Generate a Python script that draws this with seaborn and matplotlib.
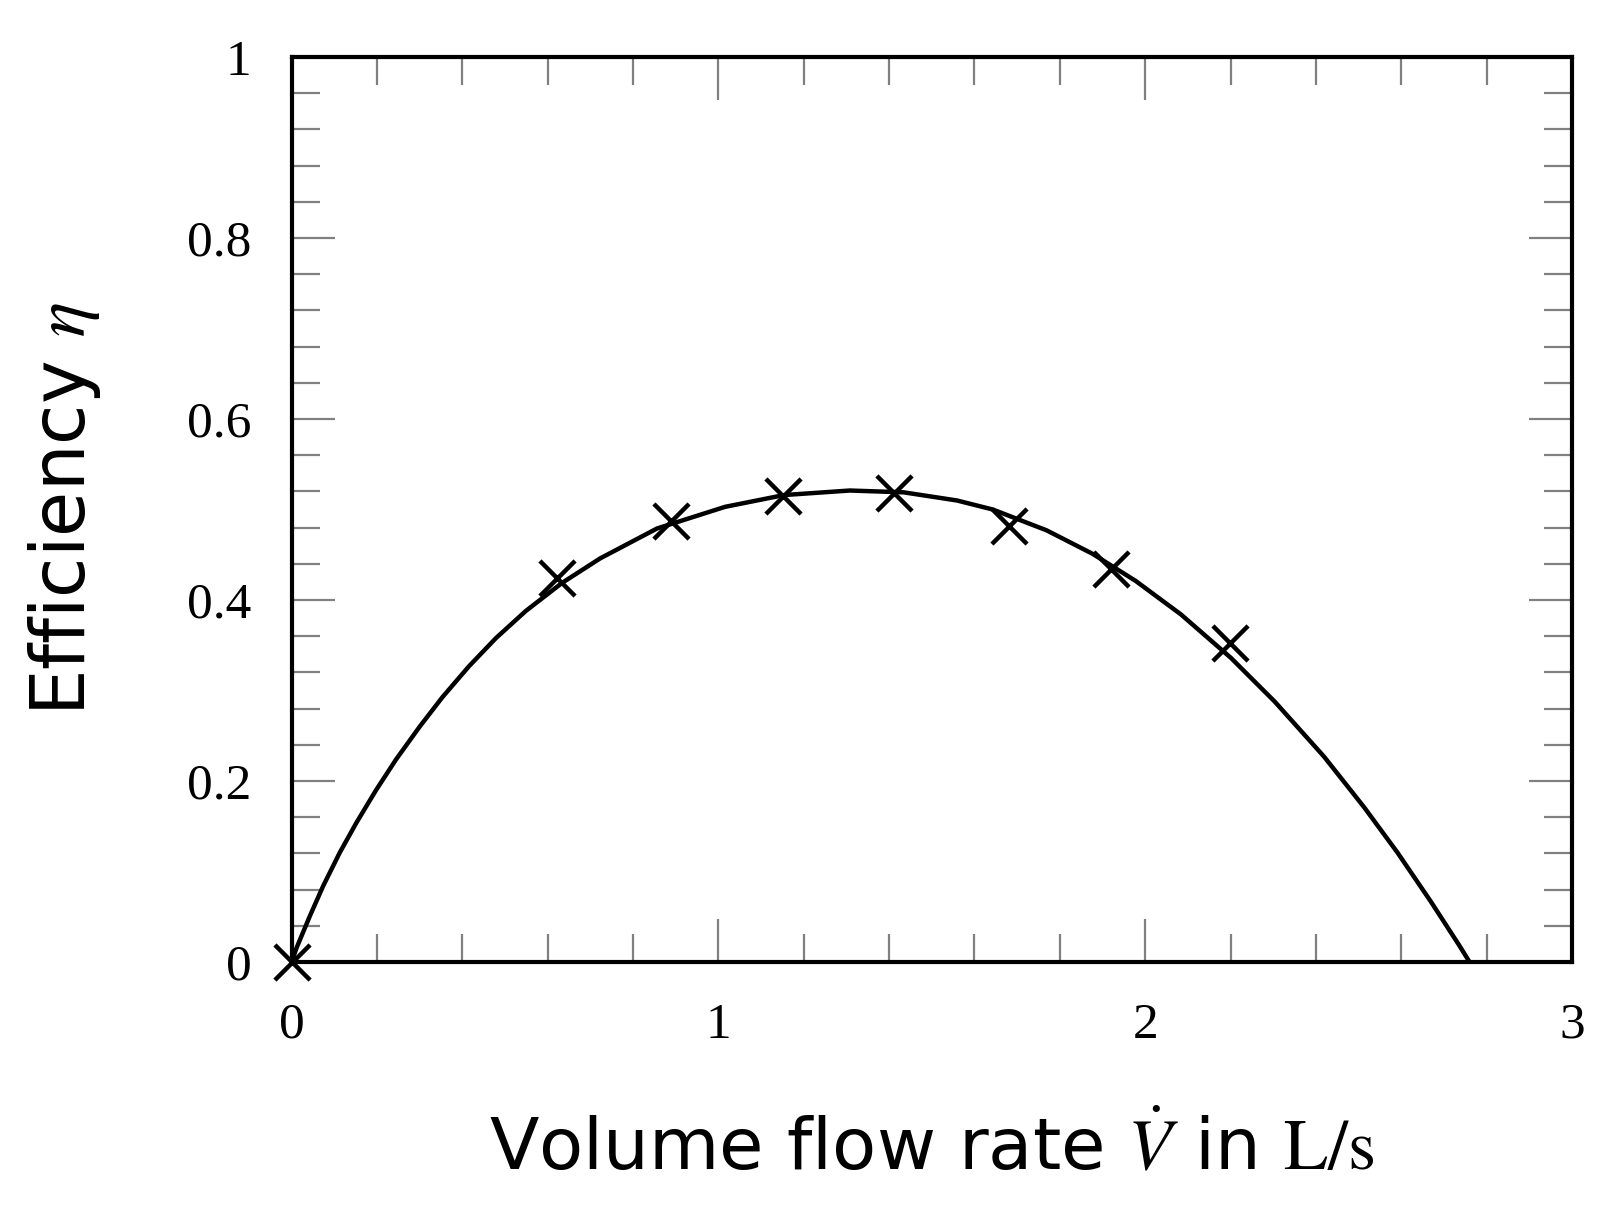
import numpy as np
import pandas as pd
import seaborn as sns
import matplotlib
matplotlib.use("Agg")
import matplotlib.pyplot as plt
from matplotlib.ticker import MultipleLocator, FuncFormatter

# measured points (volume flow rate in L/s, efficiency)
flow_meas = [0.0, 0.622, 0.888, 1.152, 1.411, 1.682, 1.920, 2.198]
eta_meas = [0.0, 0.424, 0.487, 0.515, 0.518, 0.482, 0.434, 0.352]

# fitted curve
flow_fit = [0.0, 0.012, 0.043, 0.074, 0.113, 0.152, 0.198, 0.245, 0.300, 0.354,
            0.416, 0.479, 0.549, 0.634, 0.723, 0.856, 1.016, 1.154, 1.308, 1.434,
            1.559, 1.643, 1.769, 1.877, 1.978, 2.084, 2.201, 2.303, 2.419, 2.513,
            2.591, 2.669, 2.735, 2.760]
eta_fit = [0.0, 0.016, 0.051, 0.084, 0.121, 0.154, 0.190, 0.224, 0.260, 0.293,
           0.327, 0.358, 0.388, 0.419, 0.446, 0.479, 0.503, 0.516, 0.521, 0.519,
           0.510, 0.500, 0.477, 0.451, 0.421, 0.384, 0.336, 0.288, 0.227, 0.171,
           0.121, 0.067, 0.019, 0.0]

meas = pd.DataFrame({"flow": flow_meas, "eta": eta_meas})
fit = pd.DataFrame({"flow": flow_fit, "eta": eta_fit})

sns.set_style("ticks")
plt.rcParams["font.family"] = ["Liberation Serif", "DejaVu Serif"]
plt.rcParams["mathtext.fontset"] = "stix"
plt.rcParams["lines.solid_joinstyle"] = "round"
plt.rcParams["text.color"] = "black"
plt.rcParams["axes.labelcolor"] = "black"

fig = plt.figure(figsize=(16.1, 12.26), dpi=100)
ax = fig.add_axes([0.1811, 0.2153, 0.9764 - 0.1811, 0.9535 - 0.2153])

sns.lineplot(data=fit, x="flow", y="eta", ax=ax, color="black", linewidth=3.2,
             sort=False, estimator=None)
sns.scatterplot(data=meas, x="flow", y="eta", ax=ax, marker="x", s=640,
                color="black", linewidth=3.2, zorder=5)
for coll in ax.collections:
    coll.set_clip_on(False)

ax.set_xlim(0, 3)
ax.set_ylim(0, 1)
ax.xaxis.set_major_locator(MultipleLocator(1))
ax.xaxis.set_minor_locator(MultipleLocator(0.2))
ax.yaxis.set_major_locator(MultipleLocator(0.2))
ax.yaxis.set_minor_locator(MultipleLocator(0.04))
ax.xaxis.set_major_formatter(FuncFormatter(lambda v, p: f"{v:g}"))
ax.yaxis.set_major_formatter(FuncFormatter(lambda v, p: f"{v:g}"))

ax.tick_params(which="both", direction="in", top=True, right=True,
               color="#808080", width=1.6, labelsize=37, pad=29,
               labelcolor="black")
ax.tick_params(which="major", length=31)
ax.tick_params(which="minor", length=20)
for s in ax.spines.values():
    s.set_linewidth(3)
    s.set_color("black")
    s.set_zorder(6)

label_font = ["DejaVu Sans"]
ax.set_xlabel(r"Volume flow rate $\dot{V}$ in $\mathrm{L/s}$", fontsize=52,
              family=label_font)
ax.set_ylabel(r"Efficiency $\eta$", fontsize=53, family=label_font)
ax.xaxis.set_label_coords(0.5, -0.17)
ax.yaxis.set_label_coords(-0.147, 0.5)
ax.xaxis.label.set_va("top")
ax.yaxis.label.set_va("bottom")

fig.savefig("out.png", dpi=100)
